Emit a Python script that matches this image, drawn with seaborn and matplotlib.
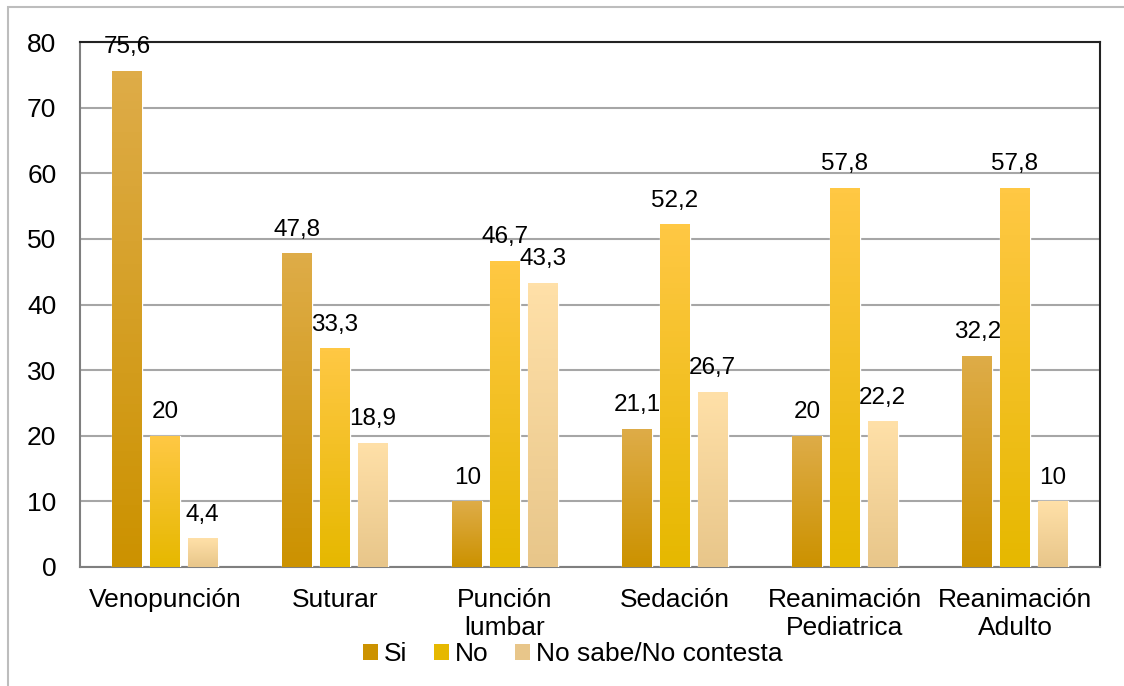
import numpy as np
import pandas as pd
import matplotlib
matplotlib.use("Agg")
import matplotlib.pyplot as plt
from matplotlib.patches import Rectangle, Patch
from matplotlib.colors import LinearSegmentedColormap
import seaborn as sns

categorias = ["Venopunción", "Suturar", "Punción\nlumbar", "Sedación",
              "Reanimación\nPediatrica", "Reanimación\nAdulto"]
series = ["Si", "No", "No sabe/No contesta"]
si = [75.6, 47.8, 10, 21.1, 20, 32.2]
no = [20, 33.3, 46.7, 52.2, 57.8, 57.8]
ns = [4.4, 18.9, 43.3, 26.7, 22.2, 10]

# gradient (top, bottom) per series
grad = {
    "Si": ("#deac48", "#cc9200"),
    "No": ("#ffc844", "#e6b800"),
    "No sabe/No contesta": ("#ffe0a8", "#e8c68a"),
}

df = pd.DataFrame({
    "cat": categorias * 3,
    "serie": np.repeat(series, len(categorias)),
    "valor": si + no + ns,
})

sns.set_style("white")
plt.rcParams["font.family"] = ["Liberation Sans", "DejaVu Sans"]
plt.rcParams["text.color"] = "black"

fig = plt.figure(figsize=(11.24, 6.86), dpi=100)
ax = fig.add_axes([80 / 1124, 1 - 567 / 686, 1020 / 1124, 525 / 686])

mid = {k: v[1] for k, v in grad.items()}
sns.barplot(data=df, x="cat", y="valor", hue="serie", hue_order=series,
            palette=mid, width=0.666, gap=0.207, ax=ax, legend=False,
            zorder=3)

# gradient fill for every bar
for cont, s in zip(ax.containers, series):
    cmap = LinearSegmentedColormap.from_list(s, [grad[s][1], grad[s][0]])
    for p in cont.patches:
        x0, y0 = p.get_x(), p.get_y()
        w, h = p.get_width(), p.get_height()
        p.set_facecolor("none")
        img = ax.imshow(np.linspace(0, 1, 64).reshape(-1, 1), cmap=cmap,
                        extent=[x0, x0 + w, y0, y0 + h], origin="lower",
                        aspect="auto", zorder=3)
        img.set_clip_path(p)
    ax.bar_label(cont, labels=[f"{v:g}".replace(".", ",") for v in cont.datavalues],
                 padding=9, fontsize=17.5, color="black", zorder=4)

ax.set_xlim(-0.5, 5.5)
ax.set_ylim(0, 80)
ax.set_yticks(range(0, 81, 10))
ax.yaxis.grid(True, color="#a6a6a6", linewidth=1.5, zorder=0)
ax.set_axisbelow(True)
ax.set_xlabel("")
ax.set_ylabel("")
ax.tick_params(axis="both", length=0, labelsize=19, colors="black")
ax.tick_params(axis="y", pad=17)
ax.tick_params(axis="x", pad=15)
for sp in ["left", "bottom"]:
    ax.spines[sp].set_color("#7f7f7f")
    ax.spines[sp].set_linewidth(1.5)
for sp in ["top", "right"]:
    ax.spines[sp].set_color("#222222")
    ax.spines[sp].set_linewidth(1.5)
for lab in ax.get_xticklabels():
    lab.set_linespacing(1.2)

handles = [Patch(facecolor=grad[s][1], edgecolor="none", label=s) for s in series]
fig.legend(handles=handles, loc="center", bbox_to_anchor=(573 / 1124, 1 - 654 / 686),
           ncol=3, frameon=False, fontsize=19, handlelength=0.55, handleheight=0.55,
           handletextpad=0.25, columnspacing=1.0, borderpad=0, labelcolor="black")

# outer chart frame
fig.patches.append(Rectangle((8 / 1124, -0.1), 1.2, 1.1 - 7 / 686,
                             transform=fig.transFigure, fill=False,
                             edgecolor="#bdbdbd", linewidth=1.5))

fig.savefig("out.png", dpi=100)
